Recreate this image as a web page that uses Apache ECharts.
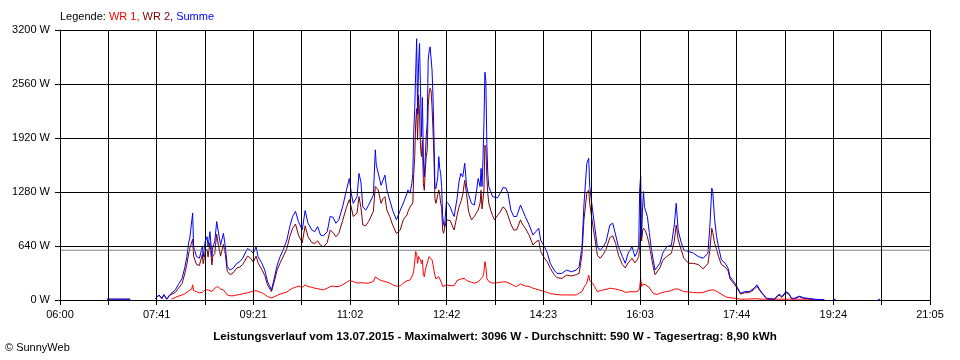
<!DOCTYPE html>
<html>
<head>
<meta charset="utf-8">
<script src="https://cdn.jsdelivr.net/npm/echarts@6/dist/echarts.min.js"></script>
<style>
html,body{margin:0;padding:0;background:#fff;}
#chart{width:960px;height:360px;}
</style>
</head>
<body>
<div id="chart"></div>
<script>
// ---- data ----
const times = ['06:49','06:56','06:57','06:58','07:13','07:14','07:39','07:43','07:46','07:48','07:51','07:54','07:56','08:00','08:03','08:07','08:10','08:12','08:14','08:15','08:17','08:18','08:19','08:22','08:25','08:28','08:29','08:31','08:33','08:34','08:36','08:38','08:39','08:41','08:43','08:44','08:47','08:50','08:52','08:54','08:57','09:00','09:04','09:07','09:10','09:15','09:18','09:21','09:24','09:26','09:30','09:33','09:36','09:40','09:42','09:46','09:49','09:52','09:56','09:59','10:02','10:05','10:08','10:12','10:15','10:18','10:22','10:25','10:28','10:31','10:34','10:38','10:41','10:44','10:47','10:50','10:54','10:58','11:01','11:03','11:05','11:09','11:11','11:13','11:15','11:18','11:21','11:26','11:28','11:29','11:31','11:34','11:36','11:38','11:40','11:43','11:46','11:50','11:52','11:54','11:57','12:01','12:02','12:04','12:05','12:06','12:07','12:08','12:09','12:10','12:11','12:12','12:13','12:14','12:15','12:16','12:17','12:18','12:19','12:20','12:21','12:22','12:23','12:24','12:25','12:26','12:27','12:28','12:29','12:30','12:31','12:32','12:33','12:34','12:35','12:36','12:37','12:38','12:39','12:40','12:42','12:44','12:46','12:48','12:50','12:53','12:55','12:57','12:59','13:01','13:03','13:05','13:08','13:11','13:13','13:15','13:17','13:18','13:19','13:20','13:21','13:22','13:23','13:24','13:25','13:26','13:28','13:30','13:32','13:35','13:38','13:41','13:44','13:46','13:49','13:52','13:55','13:59','14:01','14:04','14:08','14:12','14:15','14:18','14:20','14:24','14:27','14:30','14:34','14:37','14:42','14:47','14:52','14:57','15:00','15:03','15:05','15:08','15:10','15:11','15:14','15:16','15:19','15:22','15:25','15:28','15:32','15:35','15:38','15:41','15:45','15:48','15:51','15:55','15:58','16:00','16:02','16:03','16:04','16:05','16:06','16:07','16:08','16:09','16:11','16:13','16:15','16:17','16:19','16:21','16:24','16:27','16:31','16:36','16:39','16:41','16:43','16:46','16:49','16:54','16:59','17:04','17:09','17:14','17:16','17:18','17:19','17:21','17:23','17:25','17:28','17:32','17:35','17:37','17:42','17:44','17:48','17:52','17:57','18:02','18:05','18:08','18:12','18:15','18:23','18:28','18:31','18:35','18:38','18:41','18:44','18:49','18:54','18:58','19:04','19:11','19:15','19:16','19:25','19:27','19:28','20:11','20:13','20:14'];

const wr1 = [null,null,null,null,null,null,null,null,null,null,null,null,10,30,45,60,75,90,110,120,130,180,110,100,85,90,80,120,140,120,130,100,110,140,150,160,130,120,90,60,50,50,60,65,75,85,95,105,110,100,85,65,40,25,35,55,70,80,95,120,140,150,165,150,180,160,150,140,135,125,120,140,160,165,160,160,180,210,230,235,220,200,210,205,200,200,200,220,275,260,250,230,225,220,210,200,180,165,160,165,200,230,235,235,235,250,300,350,450,575,550,435,515,500,475,430,475,300,275,350,400,435,480,515,510,500,475,420,355,290,250,235,250,275,250,230,200,160,160,165,180,175,170,165,170,230,240,250,250,255,230,215,210,200,205,215,240,230,250,280,330,455,400,255,235,220,205,200,200,205,210,215,215,205,190,170,160,190,180,165,160,140,130,120,115,100,90,75,70,65,60,60,60,60,80,100,150,200,295,230,200,160,100,110,120,125,140,135,130,120,110,90,95,100,95,100,110,150,255,160,190,200,190,180,160,150,110,80,60,65,80,90,100,110,130,140,130,115,100,95,90,85,90,110,115,120,120,115,100,90,70,40,30,25,20,15,10,10,12,15,15,10,10,10,10,10,10,10,10,10,10,10,10,10,10,null,null,null,null,null,null,null,null,null,null];

const wr2 = [10,10,30,10,10,null,15,55,15,60,10,55,55,90,135,195,320,425,560,610,620,720,520,420,410,540,430,570,600,510,680,415,520,550,780,700,520,660,540,340,300,320,380,390,420,520,500,450,520,440,360,290,175,100,180,360,440,510,610,750,850,900,770,680,880,750,680,670,700,650,630,680,830,800,750,790,940,1100,1190,1100,990,1030,1225,1100,890,880,930,1050,1345,1330,1305,1145,1200,1225,1065,990,890,790,780,830,950,1010,1050,1100,1105,1105,1150,1500,1700,2100,2270,1895,2430,2200,1815,1700,1895,1380,1300,1540,1700,1775,2300,2450,2510,2480,2290,2015,1700,1200,1145,1145,1250,1305,1250,1145,1100,830,790,790,950,960,940,880,830,1000,1100,1165,1250,1420,1250,1050,950,990,1030,1065,1150,1300,1080,1100,1300,1835,1800,1460,1265,1150,1065,1000,950,1000,1045,1105,1065,1000,900,830,830,950,900,850,770,650,690,710,575,495,450,375,300,265,255,295,285,300,315,540,950,1265,1305,1150,900,760,530,495,540,600,740,760,670,530,420,380,440,495,440,470,515,620,870,700,820,850,850,820,750,650,520,400,300,280,380,470,515,555,700,890,720,600,495,435,435,420,370,430,590,850,800,670,600,515,420,390,345,250,180,145,70,85,88,125,160,110,55,15,5,60,30,90,70,15,15,40,20,15,5,5,5,null,null,null,null,null,null,null];

const summe = [10,10,30,10,10,null,15,60,20,65,10,60,65,120,180,255,395,515,690,730,750,1030,630,515,495,630,515,690,750,630,810,515,630,690,930,950,650,790,630,395,355,375,435,455,495,610,590,555,630,515,435,355,215,120,215,415,515,590,710,870,990,1050,930,830,1060,910,830,810,870,770,760,810,990,980,910,950,1105,1305,1440,1265,1145,1225,1500,1400,1105,1065,1125,1245,1780,1600,1580,1360,1420,1480,1305,1185,1065,950,940,1065,1145,1265,1305,1265,1265,1380,1500,2000,2270,2700,3096,2200,2800,3040,2500,1935,2400,1660,1460,1700,1950,2100,2845,2950,3000,3020,2725,2410,1935,1345,1320,1305,1460,1700,1560,1500,1345,1000,900,870,1165,1140,1100,1040,990,1200,1400,1500,1460,1620,1345,1250,1145,1125,1265,1440,1345,1560,1345,1660,2095,2700,2600,1855,1500,1345,1285,1225,1205,1210,1265,1335,1325,1265,1065,990,990,1125,1105,990,890,770,810,850,710,630,555,435,355,315,315,355,335,355,395,630,1125,1620,1680,1350,1065,890,630,590,630,690,890,910,770,630,515,435,555,630,515,560,630,1305,1470,750,1100,1285,1100,1065,990,800,620,480,355,340,435,555,630,650,890,1145,830,690,590,575,555,515,495,555,870,1325,1285,950,750,630,475,435,375,275,200,160,80,100,100,140,180,120,60,20,10,70,40,100,80,20,20,45,25,20,10,5,5,null,8,8,null,8,8,null];

const avgW = 590;                       // Durchschnitt
const yMax = 3200, yStep = 640;
const xTickLabels = ['06:00','07:41','09:21','11:02','12:42','14:23','16:03','17:44','19:24','21:05'];
const dayStart = '06:00', dayEnd = '21:05';
const titleText = 'Leistungsverlauf vom 13.07.2015 - Maximalwert: 3096 W - Durchschnitt: 590 W - Tagesertrag: 8,90 kWh';

// x unit = 1/18 minute so that the 18 grid steps have an integer interval
const SUB = 18;
function mins(t){const p=t.split(':').map(Number);return p[0]*60+p[1];}
const x0 = mins(dayStart);
const xMax = (mins(dayEnd) - x0) * SUB;
const xStep = xMax / 18;
function toX(t){return (mins(t) - x0) * SUB;}
function pairs(arr){return times.map((t,i)=>[toX(t), arr[i]]);}

const FONT = 'Liberation Sans';
const chart = echarts.init(document.getElementById('chart'), null, {renderer:'canvas'});
const lineSeries = (name, data, color, z) => ({
  name, type:'line', data: pairs(data), showSymbol:false, symbol:'none',
  connectNulls:false, animation:false, z,
  lineStyle:{color, width:1}, itemStyle:{color}
});
const rs = (c) => ({color:c, fontSize:11, fontFamily:FONT, fontWeight:'normal'});

chart.setOption({
  animation:false,
  backgroundColor:'#fff',
  grid:{left:60, right:30, top:30, bottom:60, containLabel:false},
  xAxis:{
    type:'value', min:0, max:xMax, interval:xStep, z:10,
    axisLine:{show:true, onZero:false, lineStyle:{color:'#000', width:1}},
    axisTick:{show:true, length:5, lineStyle:{color:'#000'}},
    splitLine:{show:true, lineStyle:{color:'#000', width:1}},
    axisLabel:{
      color:'#000', fontFamily:FONT, fontSize:11, margin:9,
      showMinLabel:true, showMaxLabel:true,
      formatter:(v)=>{const i=Math.round(v/xStep);return i%2===0 ? xTickLabels[i/2] : '';}
    }
  },
  yAxis:{
    type:'value', min:0, max:yMax, interval:yStep, z:10,
    axisLine:{show:true, lineStyle:{color:'#000', width:1}},
    axisTick:{show:true, length:5, lineStyle:{color:'#000'}},
    splitLine:{show:true, lineStyle:{color:'#000', width:1}},
    axisLabel:{color:'#000', fontFamily:FONT, fontSize:11, margin:10, formatter:(v)=>v+' W'}
  },
  series:[
    lineSeries('WR 1', wr1, '#ff0000', 3),
    lineSeries('WR 2', wr2, '#800000', 4),
    lineSeries('Summe', summe, '#0000ff', 5),
    {
      name:'Durchschnitt', type:'line', z:6, showSymbol:false, symbol:'none', animation:false,
      data:[[0, avgW],[xMax, avgW]],
      lineStyle:{color:'#808080', width:1}
    }
  ],
  title:[{
    text:'{k|Legende: }{r|WR 1,} {d|WR 2,} {b|Summe}',
    left:60, top:11, padding:0,
    textStyle:{
      fontSize:11, fontFamily:FONT, fontWeight:'normal',
      rich:{k:rs('#000'), r:rs('#ff0000'), d:rs('#800000'), b:rs('#0000ff')}
    }
  }],
  graphic:[
    {type:'text', x:495, y:337, style:{text:titleText, fill:'#000', font:'bold 11.6px "Liberation Sans"', align:'center', verticalAlign:'middle'}},
    {type:'text', x:5, y:348, style:{text:'\u00A9 SunnyWeb', fill:'#000', font:'11px "Liberation Sans"', align:'left', verticalAlign:'middle'}}
  ]
});
</script>
</body>
</html>
